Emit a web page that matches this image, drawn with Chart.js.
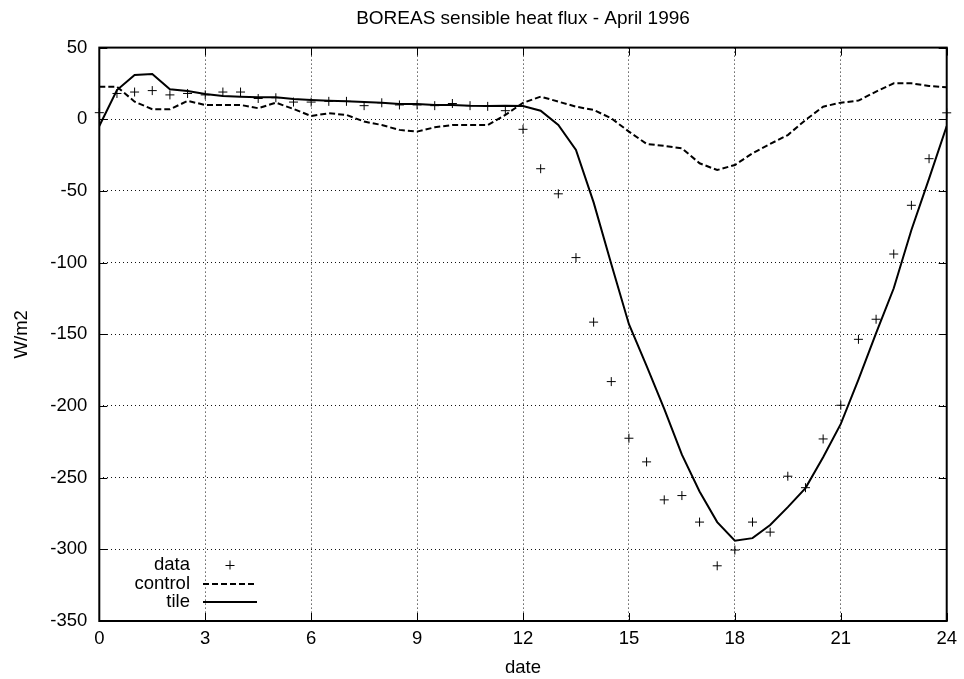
<!DOCTYPE html>
<html>
<head>
<meta charset="utf-8">
<script src="https://cdn.jsdelivr.net/npm/chart.js@4.4.1/dist/chart.umd.min.js"></script>
<style>
  html, body { margin: 0; padding: 0; background: #fff; }
  #wrap { width: 964px; height: 679px; }
</style>
</head>
<body>
<div id="wrap"><canvas id="c" width="964" height="679"></canvas></div>
<script>
/* BOREAS sensible heat flux, April 1996 */

const dates = [0, 0.5, 1, 1.5, 2, 2.5, 3, 3.5, 4, 4.5, 5, 5.5, 6, 6.5, 7, 7.5, 8, 8.5,
  9, 9.5, 10, 10.5, 11, 11.5, 12, 12.5, 13, 13.5, 14, 14.5, 15, 15.5, 16, 16.5, 17,
  17.5, 18, 18.5, 19, 19.5, 20, 20.5, 21, 21.5, 22, 22.5, 23, 23.5, 24];

const observed = [4.6, 18, 19, 20, 17, 18, 17, 19, 19, 14.5, 15, 12, 12, 12.5, 12.5, 9.5,
  11.5, 10, 10, 9.5, 11, 9.5, 9, 6, -7, -34.5, -52, -96.5, -141.5, -183, -222.5, -239,
  -265.5, -262.5, -281, -311.5, -300.5, -281, -288, -249, -257, -223, -199.5, -153.5,
  -139.5, -94, -60, -27.5, 4.5];

const control = [22.7, 22.7, 12.3, 7, 7, 12.8, 10, 10, 10, 7.7, 11.6, 7.2, 2.3, 4.2, 3,
  -1.6, -4, -7.4, -8.6, -5.6, -4, -4, -4, 3, 11.5, 15.8, 12.3, 8.8, 6.5, 0.7, -8.6,
  -17.2, -18.6, -20.2, -30.7, -35.4, -31.9, -23.7, -17.2, -11, -0.5, 8.8, 11.6, 13,
  19.3, 25.1, 25.1, 23.2, 22.3];

const tile = [-4.7, 20.4, 30.9, 31.6, 20.9, 19.7, 17.6, 16.2, 15.8, 15.3, 15.3, 14.2,
  13.5, 13, 12.5, 12, 11.6, 10.7, 10.7, 10, 10, 9.5, 9.3, 9.5, 9.3, 6, -4, -21.4, -58,
  -101, -143, -172, -202, -234, -259.7, -281, -294, -292.2, -283, -270.6, -257.3,
  -235.7, -212.5, -181.7, -149.2, -117.9, -77.2, -41.4, -4.7];

const xTicks = [0, 3, 6, 9, 12, 15, 18, 21, 24];
const yTicks = [50, 0, -50, -100, -150, -200, -250, -300, -350];

const FONT = '"Liberation Sans", Arial, Helvetica, sans-serif';
const FSIZE = 18.5;

Chart.defaults.font.family = FONT;
Chart.defaults.font.size = FSIZE;
Chart.defaults.color = '#000';

const pts = ys => dates.map((d, i) => ({ x: d, y: ys[i] }));

// gnuplot style: frame, inward ticks on all four sides, key in the lower left
const gnuplotFrame = {
  id: 'gnuplotFrame',
  afterDatasetsDraw(chart) {
    const { ctx, chartArea: a, scales: { x, y } } = chart;
    ctx.save();
    ctx.strokeStyle = '#000';
    ctx.lineWidth = 1;
    ctx.setLineDash([]);
    ctx.beginPath();
    xTicks.forEach(v => {
      const px = Math.round(x.getPixelForValue(v)) + 0.5;
      ctx.moveTo(px, a.bottom); ctx.lineTo(px, a.bottom - 8);
      ctx.moveTo(px, a.top); ctx.lineTo(px, a.top + 8);
    });
    yTicks.forEach(v => {
      const py = Math.round(y.getPixelForValue(v)) + 0.5;
      ctx.moveTo(a.left, py); ctx.lineTo(a.left + 8, py);
      ctx.moveTo(a.right, py); ctx.lineTo(a.right - 8, py);
    });
    ctx.stroke();

    ctx.lineWidth = 2;
    ctx.strokeRect(a.left, a.top, a.right - a.left, a.bottom - a.top);

    // key
    const textRight = 190, x0 = 203, x1 = 257;
    const rows = [565, 583.5, 602];
    ctx.font = FSIZE + 'px ' + FONT;
    ctx.fillStyle = '#000';
    ctx.textAlign = 'right';
    ctx.textBaseline = 'middle';
    chart.data.datasets.forEach((ds, i) => {
      const ry = rows[i];
      ctx.fillText(ds.label, textRight, ry);
      ctx.beginPath();
      if (ds.showLine === false) {
        const cx = (x0 + x1) / 2, r = 4.5;
        ctx.lineWidth = 1;
        ctx.setLineDash([]);
        ctx.moveTo(cx - r, Math.round(ry) + 0.5); ctx.lineTo(cx + r, Math.round(ry) + 0.5);
        ctx.moveTo(cx, ry - r); ctx.lineTo(cx, ry + r);
      } else {
        ctx.lineWidth = ds.borderWidth;
        ctx.setLineDash(ds.borderDash || []);
        ctx.moveTo(x0, Math.round(ry)); ctx.lineTo(x1, Math.round(ry));
      }
      ctx.stroke();
    });
    ctx.restore();
  }
};

new Chart(document.getElementById('c'), {
  type: 'line',
  data: {
    datasets: [
      {
        label: 'data',
        data: pts(observed),
        showLine: false,
        pointStyle: 'cross',
        pointRadius: 4.5,
        pointBorderWidth: 1,
        pointBorderColor: '#000',
        borderColor: '#000',
        clip: false,
      },
      {
        label: 'control',
        data: pts(control),
        borderColor: '#000',
        borderWidth: 2,
        borderDash: [6, 3],
        pointRadius: 0,
        tension: 0,
        fill: false,
      },
      {
        label: 'tile',
        data: pts(tile),
        borderColor: '#000',
        borderWidth: 2,
        pointRadius: 0,
        tension: 0,
        fill: false,
      },
    ],
  },
  options: {
    responsive: false,
    animation: false,
    events: [],
    layout: { padding: { left: 0, right: 11.4, top: 0, bottom: 0 } },
    plugins: {
      legend: { display: false },
      tooltip: { enabled: false },
      title: {
        display: true,
        fullSize: false,
        text: 'BOREAS sensible heat flux - April 1996',
        font: { size: 19, weight: 'normal' },
        color: '#000',
        padding: { top: 6.9, bottom: 17.9 },
      },
    },
    scales: {
      x: {
        type: 'linear',
        min: 0,
        max: 24,
        afterBuildTicks: s => { s.ticks = xTicks.map(v => ({ value: v })); },
        afterFit: s => { s.height = 58; },
        ticks: { padding: 7, color: '#000', maxRotation: 0, autoSkip: false },
        grid: { color: '#111', lineWidth: 1, drawTicks: false },
        border: { display: false, dash: [1, 3] },
        title: { display: true, text: 'date', color: '#000', padding: { top: 0, bottom: 0 } },
      },
      y: {
        type: 'linear',
        min: -350,
        max: 50,
        afterBuildTicks: s => { s.ticks = yTicks.map(v => ({ value: v })); },
        afterFit: s => { s.width = 99.3; },
        ticks: { padding: 12, color: '#000', autoSkip: false },
        grid: { color: '#111', lineWidth: 1, drawTicks: false },
        border: { display: false, dash: [1, 3] },
        title: { display: true, text: 'W/m2', color: '#000', padding: { top: 11, bottom: 0 } },
      },
    },
  },
  plugins: [gnuplotFrame],
});
</script>
</body>
</html>
